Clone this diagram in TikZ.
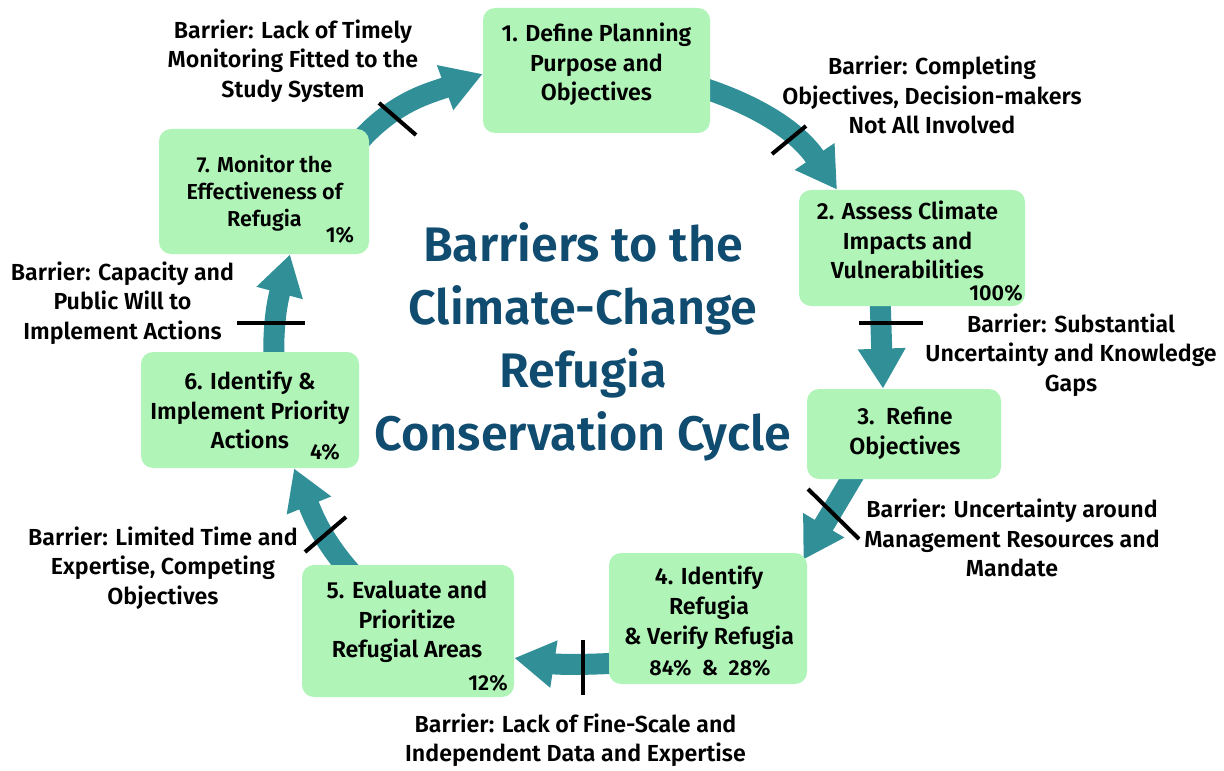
\documentclass[tikz,border=0pt]{standalone}
\usepackage{fontspec}
\setmainfont{Fira Sans}[BoldFont={Fira Sans SemiBold}]
\usetikzlibrary{arrows.meta}
\definecolor{stagegreen}{HTML}{B0F4B8}
\definecolor{cycleteal}{HTML}{318F98}
\definecolor{titleblue}{HTML}{0F4C70}
\pgfdeclarelayer{background}
\pgfsetlayers{background,main}
\tikzset{
	stage/.style={fill=stagegreen, rounded corners=0.24cm, inner sep=0pt},
	stagetext/.style={align=center, font=\bfseries\fontsize{13.2}{16.8}\selectfont},
	pct/.style={font=\bfseries\fontsize{12.3}{14}\selectfont},
	barrier/.style={align=center, font=\bfseries\fontsize{13.2}{16.8}\selectfont},
	cyclearrow/.style={draw=cycleteal, line width=0.42cm, -{Triangle[length=0.8cm,width=0.9cm]}},
	barline/.style={line width=2.3pt},
}
\begin{document}
\begin{tikzpicture}
	\useasboundingbox (0,0) rectangle (24.48,-15.42);
	
	\node[stage, minimum width=4.54cm, minimum height=2.5cm] (define) at (11.93,-1.41) {};
	\node[stage, minimum width=4.52cm, minimum height=2.32cm] (assess) at (18.24,-4.96) {};
	\node[stage, minimum width=3.88cm, minimum height=1.8cm] (refine) at (18.08,-8.68) {};
	\node[stage, minimum width=3.96cm, minimum height=2.62cm] (identify) at (14.16,-12.37) {};
	\node[stage, minimum width=4.24cm, minimum height=2.64cm] (evaluate) at (8.16,-12.62) {};
	\node[stage, minimum width=4.36cm, minimum height=2.32cm] (implement) at (5.0,-8.2) {};
	\node[stage, minimum width=4.2cm, minimum height=2.5cm] (monitor) at (5.28,-3.83) {};
	
	\node[stagetext] (define-txt) at (11.93,-1.29) {1. Define Planning\\Purpose and\\Objectives};
	\node[stagetext] (assess-txt) at (18.15,-4.80) {2. Assess Climate\\Impacts and\\Vulnerabilities};
	\node[stagetext] (refine-txt) at (18.1,-8.66) {3.~~Refine\\Objectives};
	\node[stagetext, font=\bfseries\fontsize{13.2}{17}\selectfont] (identify-txt) at (14.18,-12.16) {4. Identify\\Refugia\\\& Verify Refugia};
	\node[stagetext] (evaluate-txt) at (8.14,-12.44) {5. Evaluate and\\Prioritize\\Refugial Areas};
	\node[stagetext] (implement-txt) at (5.0,-8.2) {6. Identify \&\\Implement Priority\\Actions};
	\node[stagetext, font=\bfseries\fontsize{12.3}{15.4}\selectfont] (monitor-txt) at (5.29,-3.86) {7. Monitor the\\Effectiveness of\\Refugia};
	
	\node[pct] (monitor-pct) at (6.8,-4.70) {1\%};
	\node[pct] (assess-pct) at (19.92,-5.86) {100\%};
	\node[pct] (implement-pct) at (6.5,-9.04) {4\%};
	\node[pct] (evaluate-pct) at (9.76,-13.66) {12\%};
	\node[pct] (identify-pct) at (14.2,-13.36) {84\%~~\&~~28\%};
	
	\node[align=center, text=titleblue, font=\bfseries\fontsize{27.6}{35.8}\selectfont] (title) at (11.66,-6.84) {Barriers to the\\Climate-Change\\Refugia\\Conservation Cycle};
	
	\begin{pgfonlayer}{background}
		\draw[cyclearrow] ([shift={(-0.2cm,-0.25cm)}]monitor.north east) to[out=48,in=200] ([yshift=-0.07cm]define.west);
		\draw[cyclearrow] ([shift={(-0.2cm,-0.33cm)}]define.east) to[out=-18,in=124] ([xshift=-1.5cm]assess.north);
		\draw[cyclearrow] ([shift={(-0.64cm,0.2cm)}]assess.south) -- ([xshift=-0.42cm]refine.north);
		\draw[cyclearrow] ([shift={(-0.94cm,0.2cm)}]refine.south) -- ([shift={(-0.08cm,-0.14cm)}]identify.north east);
		\draw[cyclearrow] ([shift={(0.2cm,-0.89cm)}]identify.west) to[bend left=6] ([yshift=-0.54cm]evaluate.east);
		\draw[cyclearrow] ([shift={(-1.1cm,-0.2cm)}]evaluate.north) to[out=132,in=-68] ([xshift=0.88cm]implement.south);
		\draw[cyclearrow] ([shift={(0.48cm,-0.2cm)}]implement.north) to[out=92,in=255] ([xshift=0.52cm]monitor.south);
	\end{pgfonlayer}
	
	\draw[barline] (7.58,-2.06) -- (8.32,-2.70);
	\draw[barline] (15.44,-3.08) -- (16.12,-2.52);
	\draw[barline] (17.18,-6.46) -- (18.46,-6.46);
	\draw[barline] (16.16,-9.78) -- (17.18,-10.78);
	\draw[barline] (11.66,-12.8) -- (11.66,-13.9);
	\draw[barline] (6.1,-11.04) -- (6.92,-10.34);
	\draw[barline] (4.74,-6.46) -- (6.1,-6.46);
	
	\node[barrier] (monitoring-gap) at (5.86,-1.22) {Barrier: Lack of Timely\\Monitoring Fitted to the\\Study System};
	\node[barrier] (objectives-gap) at (18.64,-1.9) {Barrier: Completing\\Objectives, Decision-makers\\Not All Involved};
	\node[barrier] (knowledge-gap) at (21.42,-7.1) {Barrier: Substantial\\Uncertainty and Knowledge\\Gaps};
	\node[barrier] (resource-gap) at (20.24,-10.76) {Barrier: Uncertainty around\\Management Resources and\\Mandate};
	\node[barrier] (data-gap) at (11.51,-14.8) {Barrier: Lack of Fine-Scale and\\Independent Data and Expertise};
	\node[barrier] (time-gap) at (3.26,-11.36) {Barrier: Limited Time and\\Expertise, Competing\\Objectives};
	\node[barrier] (capacity-gap) at (2.45,-6.06) {Barrier: Capacity and\\Public Will to\\Implement Actions};
\end{tikzpicture}
\end{document}
